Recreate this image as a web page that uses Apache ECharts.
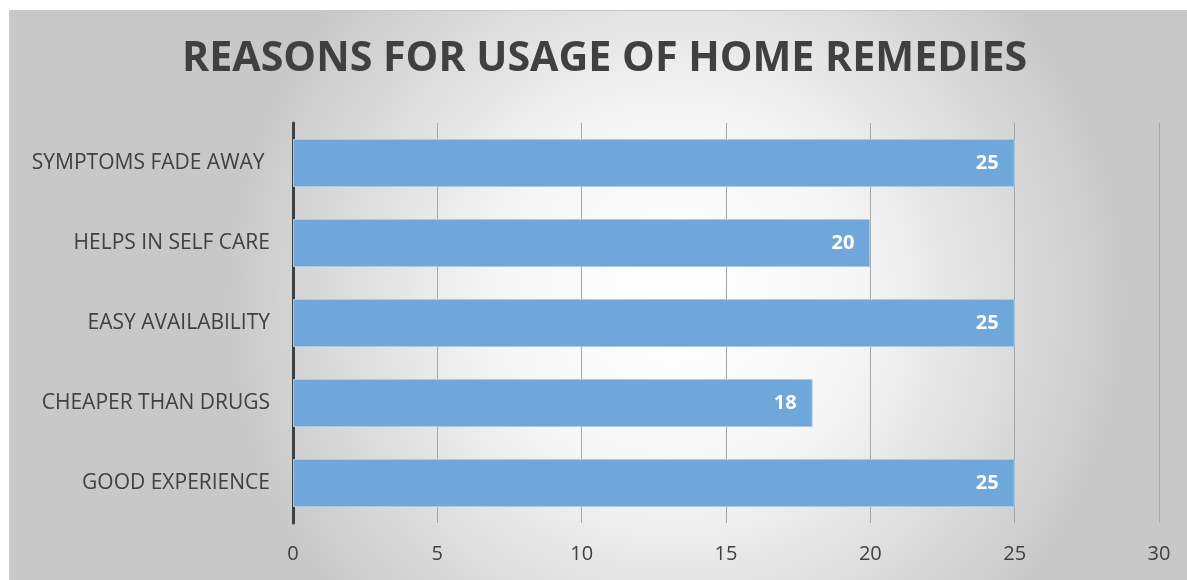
<!DOCTYPE html>
<html>
<head>
<meta charset="utf-8">
<script src="https://cdn.jsdelivr.net/npm/echarts@6/dist/echarts.min.js"></script>
<style>
html,body{margin:0;padding:0;background:#fff;}
#c{width:1187px;height:580px;}
</style>
</head>
<body>
<div id="c"></div>
<script>
const titleText = 'REASONS FOR USAGE OF HOME REMEDIES';
const categories = ['GOOD EXPERIENCE', 'CHEAPER THAN DRUGS', 'EASY AVAILABILITY', 'HELPS IN SELF CARE', 'SYMPTOMS FADE AWAY '];
const values = [25, 18, 25, 20, 25];
const xMin = 0, xMax = 30, xStep = 5;

const chart = echarts.init(document.getElementById('c'), null, {renderer: 'canvas'});
chart.setOption({
  animation: false,
  backgroundColor: '#ffffff',
  graphic: [{
    type: 'rect',
    z: -10,
    silent: true,
    shape: {x: 9.5, y: 10.5, width: 1190, height: 580},
    style: {
      fill: new echarts.graphic.RadialGradient(0.56, 0.5, 0.78, [
        {offset: 0, color: '#ffffff'},
        {offset: 0.4, color: '#f6f6f6'},
        {offset: 1, color: '#c8c8c8'}
      ]),
      stroke: '#c9c9c9',
      lineWidth: 1
    }
  }],
  title: {
    text: titleText,
    left: 177,
    top: 34,
    textStyle: {fontFamily: 'Open Sans', fontWeight: 'bold', fontSize: 41.2, color: '#404040'}
  },
  grid: {left: 293, right: 28, top: 123, bottom: 57, containLabel: false},
  xAxis: {
    type: 'value',
    min: xMin, max: xMax, interval: xStep,
    axisLine: {show: false},
    axisTick: {show: false},
    splitLine: {show: true, lineStyle: {color: '#a6a6a6', width: 1}},
    axisLabel: {fontFamily: 'Open Sans', fontSize: 20, color: '#404040', margin: 21}
  },
  yAxis: {
    type: 'category',
    data: categories,
    axisLine: {show: true, lineStyle: {color: '#404040', width: 3}},
    axisTick: {show: false},
    axisLabel: {fontFamily: 'Open Sans', fontSize: 21, color: '#404040', margin: 23}
  },
  series: [{
    type: 'bar',
    data: values,
    barCategoryGap: '40%',
    itemStyle: {color: '#70a7da', borderColor: '#a8c9ea', borderWidth: 1},
    label: {
      show: true,
      position: 'insideRight',
      distance: 16,
      color: '#ffffff',
      fontFamily: 'Open Sans',
      fontWeight: 'bold',
      fontSize: 20
    }
  }]
});
</script>
</body>
</html>
